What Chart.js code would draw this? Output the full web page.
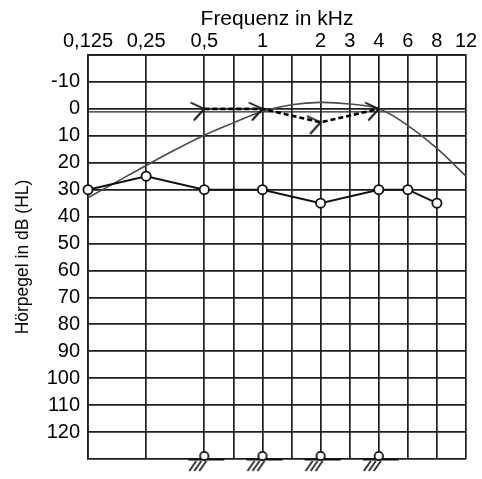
<!DOCTYPE html>
<html>
<head>
<meta charset="utf-8">
<title>Audiogramm</title>
<script src="https://cdn.jsdelivr.net/npm/chart.js@4/dist/chart.umd.min.js"></script>
<style>
  html, body { margin: 0; padding: 0; background: #fff; }
  #wrap { width: 482px; height: 479px; }
</style>
</head>
<body>
<div id="wrap"><canvas id="audiogramm"></canvas></div>
<script>
// Frequenzen in kHz, Hörpegel in dB (HL)
const gridFrequencies = [0.125, 0.25, 0.5, 0.75, 1, 1.5, 2, 3, 4, 6, 8, 12];
const labelledFrequencies = [0.125, 0.25, 0.5, 1, 2, 3, 4, 6, 8, 12];
const levelMin = -20;
const levelMax = 130;
const labelledLevels = [-10, 0, 10, 20, 30, 40, 50, 60, 70, 80, 90, 100, 110, 120];

// Luftleitung (Kreise)
const airFrequencies = [0.125, 0.25, 0.5, 1, 2, 4, 6, 8];
const airLevels = [30, 25, 30, 30, 35, 30, 30, 35];

// Knochenleitung (>)
const boneFrequencies = [0.5, 1, 2, 4];
const boneLevels = [0, 0, 5, 0];

// Keine Reaktion am unteren Rand
const noResponseFrequencies = [0.5, 1, 2, 4];
const noResponseLevels = [130, 130, 130, 130];

// Kurve
const curveFrequencies = [0.125, 0.177, 0.25, 0.354, 0.5, 0.75, 1, 1.5, 2, 3, 4, 6, 8, 12];
const curveLevels = [33, 27, 21, 15.2, 9.8, 5.2, 1, -1.5, -2.4, -1.8, 0, 6.2, 14.7, 25];

// Audiogramm-Achse: Oktaven ab 125 Hz, auf halbe Oktaven gerundet
function octavePos(f) {
  return Math.round(2 * Math.log2(f / 0.125)) / 2;
}
function toPoints(freqs, levels) {
  return freqs.map((f, i) => ({ x: octavePos(f), y: levels[i] }));
}
function fmtFreq(f) {
  return String(f).replace('.', ',');
}

const labelByPos = {};
labelledFrequencies.forEach(f => { labelByPos[octavePos(f)] = fmtFreq(f); });

// Symbol ">" (Spitze liegt im Mittelpunkt)
function makeBoneSymbol() {
  const c = document.createElement('canvas');
  c.width = 34; c.height = 28;
  const ctx = c.getContext('2d');
  const cx = 17, cy = 14;
  ctx.strokeStyle = '#111';
  ctx.lineWidth = 1.9;
  ctx.lineCap = 'round';
  ctx.beginPath();
  ctx.moveTo(cx - 13, cy - 6);
  ctx.lineTo(cx, cy);
  ctx.lineTo(cx - 10, cy + 11);
  ctx.stroke();
  return c;
}

// Symbol Kreis mit Schraffur am unteren Rand
function makeNoResponseSymbol() {
  const c = document.createElement('canvas');
  c.width = 48; c.height = 32;
  const ctx = c.getContext('2d');
  const cx = 24, cy = 16;
  ctx.strokeStyle = '#111';
  ctx.lineCap = 'butt';
  ctx.lineWidth = 2.2;
  ctx.beginPath();
  ctx.moveTo(cx - 16, cy + 0.5);
  ctx.lineTo(cx + 20, cy + 0.5);
  ctx.stroke();
  ctx.lineWidth = 1.6;
  [-8, -3, 2].forEach(dx => {
    ctx.beginPath();
    ctx.moveTo(cx + dx, cy + 2);
    ctx.lineTo(cx + dx - 7, cy + 12);
    ctx.stroke();
  });
  ctx.fillStyle = '#fff';
  ctx.lineWidth = 1.8;
  ctx.beginPath();
  ctx.arc(cx, cy - 3, 4.2, 0, Math.PI * 2);
  ctx.fill();
  ctx.stroke();
  return c;
}

// zweite Linie bei 0 dB
const nullLinie = {
  id: 'nullLinie',
  beforeDatasetsDraw(chart) {
    const { ctx, chartArea, scales } = chart;
    const y = scales.y.getPixelForValue(0) + 3;
    ctx.save();
    ctx.strokeStyle = '#222';
    ctx.lineWidth = 1.3;
    ctx.beginPath();
    ctx.moveTo(chartArea.left, y);
    ctx.lineTo(chartArea.right, y);
    ctx.stroke();
    ctx.restore();
  }
};

const schrift = 'Liberation Sans, Arial, Helvetica, sans-serif';

document.addEventListener('DOMContentLoaded', function() {
  const el = document.getElementById('audiogramm');
  new Chart(el, {
    type: 'line',
    data: {
      datasets: [
        {
          label: 'Luftleitung',
          data: toPoints(airFrequencies, airLevels),
          borderColor: '#111',
          borderWidth: 2,
          pointRadius: 4.6,
          pointBorderWidth: 1.8,
          pointBackgroundColor: '#fff',
          pointBorderColor: '#111',
          tension: 0,
          clip: false
        },
        {
          label: 'Knochenleitung',
          data: toPoints(boneFrequencies, boneLevels),
          borderColor: '#000',
          borderWidth: 2.6,
          borderDash: [5, 3],
          pointStyle: makeBoneSymbol(),
          tension: 0,
          clip: false
        },
        {
          label: 'Keine Reaktion',
          data: toPoints(noResponseFrequencies, noResponseLevels),
          showLine: false,
          pointStyle: makeNoResponseSymbol(),
          clip: false
        },
        {
          label: 'Kurve',
          data: toPoints(curveFrequencies, curveLevels),
          borderColor: '#4a4a4a',
          borderWidth: 1.6,
          pointRadius: 0,
          tension: 0.4
        }
      ]
    },
    options: {
      responsive: true,
      maintainAspectRatio: false,
      animation: false,
      events: [],
      layout: { padding: { left: 0, right: 16, top: 0, bottom: 13 } },
      plugins: {
        legend: { display: false },
        tooltip: { enabled: false }
      },
      scales: {
        x: {
          type: 'linear',
          position: 'top',
          min: octavePos(gridFrequencies[0]),
          max: octavePos(gridFrequencies[gridFrequencies.length - 1]),
          afterBuildTicks: (scale) => {
            scale.ticks = gridFrequencies.map(f => ({ value: octavePos(f) }));
          },
          afterFit: (scale) => { scale.height = 55; },
          ticks: {
            autoSkip: false,
            maxRotation: 0,
            padding: 2,
            color: '#000',
            font: { family: schrift, size: 20 },
            callback: (value) => labelByPos[value] || ''
          },
          grid: { color: '#1e1e1e', lineWidth: 1.7, drawTicks: false },
          border: { color: '#1e1e1e', width: 1.7 },
          title: {
            display: true,
            text: 'Frequenz in kHz',
            color: '#000',
            font: { family: schrift, size: 21 },
            padding: { top: 7, bottom: 0 }
          }
        },
        y: {
          type: 'linear',
          reverse: true,
          min: levelMin,
          max: levelMax,
          afterFit: (scale) => { scale.width = 88; },
          ticks: {
            stepSize: 10,
            autoSkip: false,
            padding: 8,
            color: '#000',
            font: { family: schrift, size: 20 },
            callback: (value) => labelledLevels.includes(value) ? String(value) : ''
          },
          grid: { color: '#1e1e1e', lineWidth: 1.7, drawTicks: false },
          border: { color: '#1e1e1e', width: 1.7 },
          title: {
            display: true,
            text: 'Hörpegel in dB (HL)',
            color: '#000',
            font: { family: schrift, size: 17.5 },
            padding: { top: 13, bottom: 0 }
          }
        }
      }
    },
    plugins: [nullLinie]
  });
});
</script>
</body>
</html>
